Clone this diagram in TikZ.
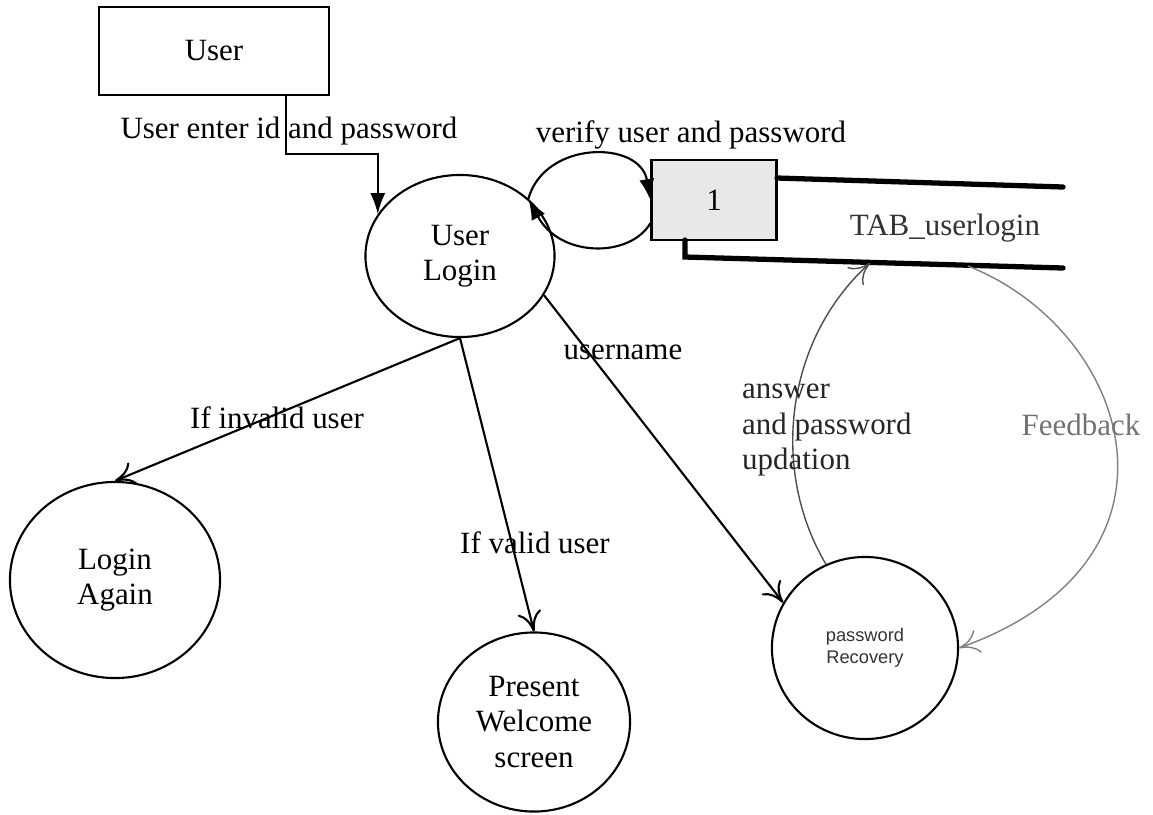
\documentclass[tikz,border=0pt]{standalone}
\usepackage{fontspec}
\setmainfont{Liberation Serif}
\newfontfamily\recfont{Liberation Sans}
\usetikzlibrary{shapes.geometric,arrows.meta}

\begin{document}
\begin{tikzpicture}
[x=0.01cm,y=-0.01cm%
,every node/.style={font={\fontsize{8.8}{10}\selectfont},%
	align=center,%
	inner sep=1pt}%
,proc/.style={ellipse,%
	draw=black,%
	semithick}%
,entity/.style={rectangle,draw=black,semithick,%
	minimum width=2.29cm,minimum height=0.88cm}%
,storebox/.style={rectangle,draw=black,semithick,fill=gray!18,%
	minimum width=1.25cm,minimum height=0.80cm}%
,tabline/.style={line width=1.5pt,line cap=round}%
,bigflow/.style={-{Latex[length=2.1mm,width=1.5mm]},semithick}%
,flow/.style={-{To[length=2mm,width=2.4mm]},semithick}%
,thinflow/.style={-{To[length=2mm,width=2.4mm]},thin,draw=black!70}]
\useasboundingbox (0,0) rectangle (1153,814);
% entities and processes
\node[entity] (user) at (214,51) {User};
\node[proc,minimum width=1.89cm,minimum height=1.62cm] (login) at (460,256) {User\\Login};
\node[storebox] (store) at (714,200) {1};
\node[proc,minimum width=2.10cm,minimum height=1.96cm] (again) at (115,580) {Login\\Again};
\node[proc,minimum width=1.92cm,minimum height=1.79cm] (welcome) at (534,722) {Present\\Welcome\\screen};
\node[proc,minimum width=1.86cm,minimum height=1.82cm,%
	font={\recfont\fontsize{5.2}{6.4}\selectfont},text=black!80] (recover) at (865,648) {password\\Recovery};
% data store
\coordinate (tabtop) at (1063,187);
\coordinate (tabbot) at (1063,268);
\draw[tabline] (777,178) -- (tabtop);
\draw[tabline] (685,240) -- (685,257) -- (tabbot);
\node[text=black!80] (tab) at (945,228) {TAB\_userlogin};
\coordinate (tabin) at (870,263);
\coordinate (tabout) at (968,266);
% flows
\draw[bigflow] ([xshift=0.72cm]user.south) -- ++(0,58) -| (login.153);
\draw[bigflow] (login.40) .. controls (545,140) and (640,140) .. (store.west);
\draw[bigflow] (store.200) .. controls (630,258) and (560,258) .. (login.40);
\draw[flow] (login.south) -- (again.north);
\draw[flow] (login.south) -- (welcome.north);
\draw[flow] (login.-25) -- (recover.151);
\draw[thinflow] (recover.115) .. controls (770,470) and (785,340) .. (tabin);
\draw[thinflow,draw=black!50] (tabout) .. controls (1130,330) and (1205,560) .. (recover.east);
% labels
\node (l1) at (289,131) {User enter id and password};
\node (l2) at (691,135) {verify user and password};
\node (l3) at (623,352) {username};
\node (l4) at (277,418) {If invalid user};
\node (l5) at (535,543) {If valid user};
\node[anchor=west,align=left,text=black!85] (l6) at (738,430) {answer\\and password\\updation};
\node[text=black!55] (l7) at (1081,425) {Feedback};
\end{tikzpicture}
\end{document}
